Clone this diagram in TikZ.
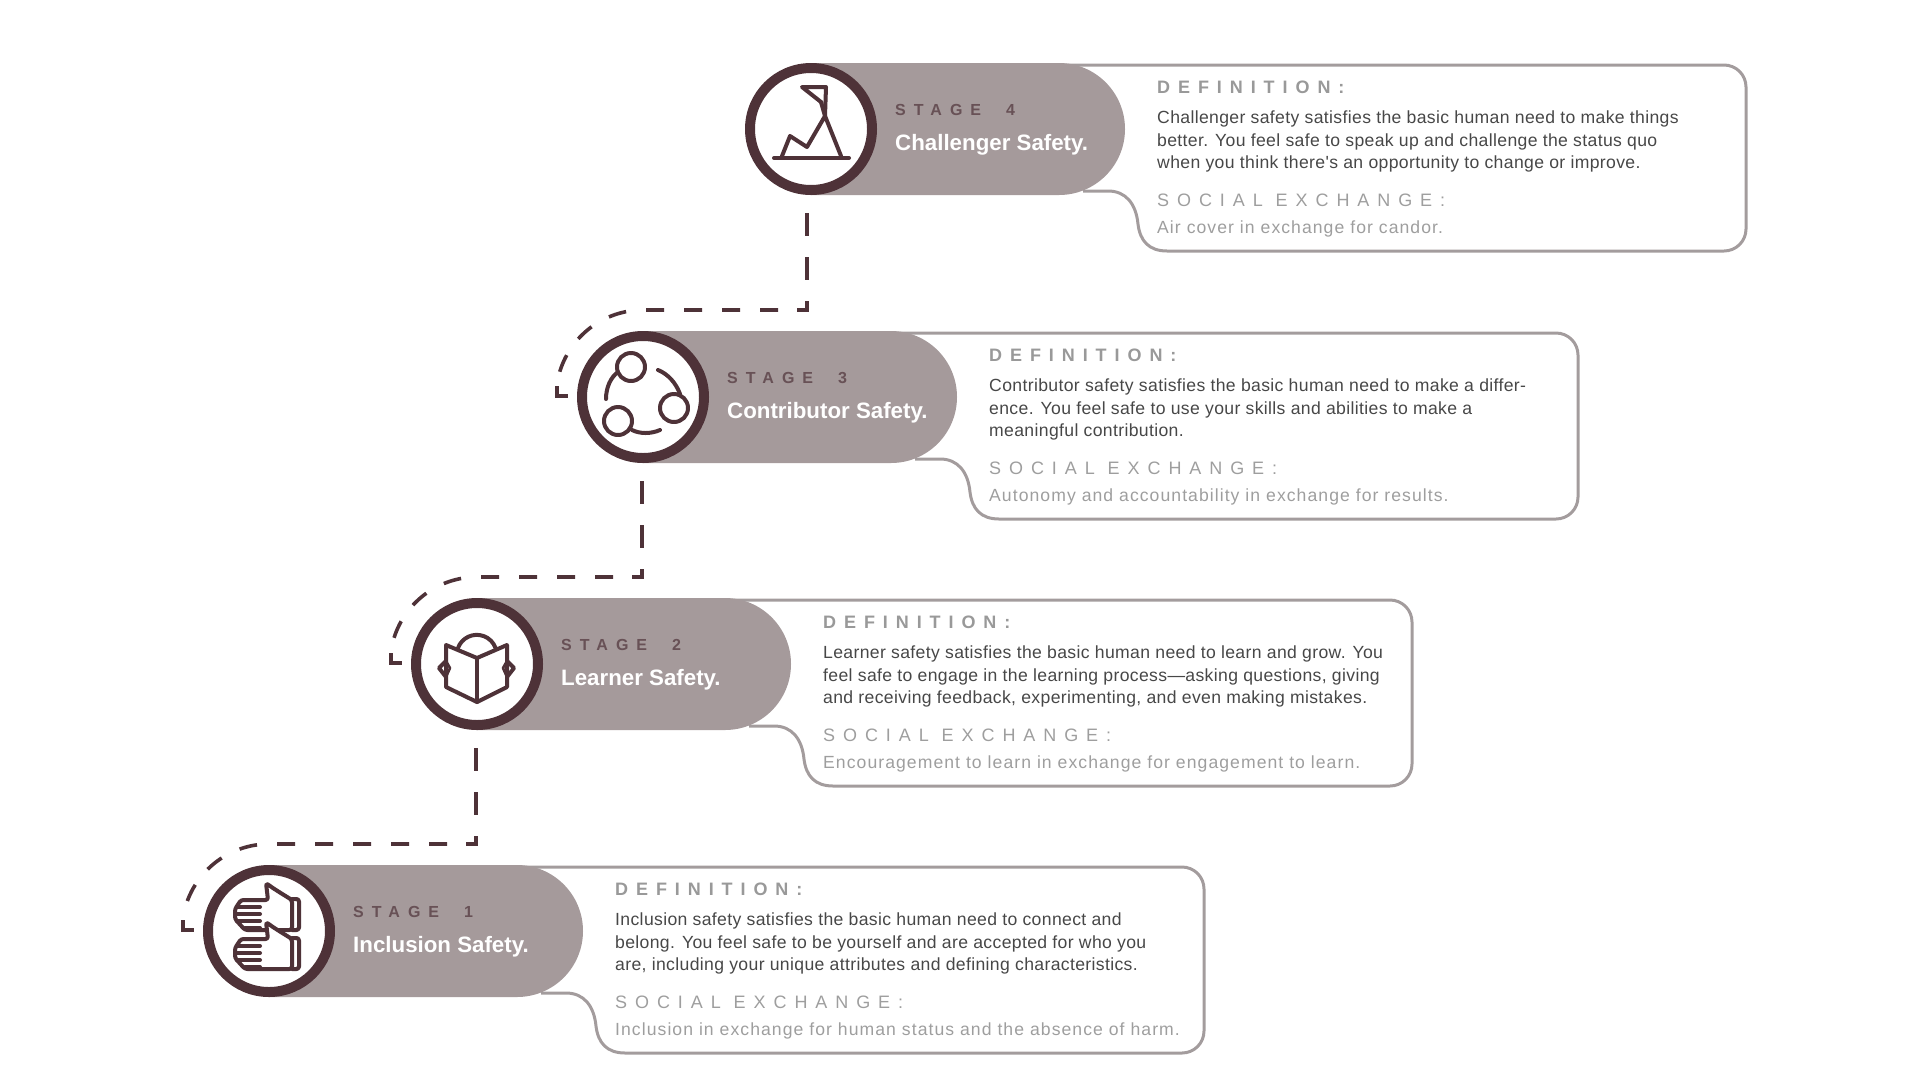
\documentclass[tikz,border=0pt]{standalone}
\usepackage{fontspec}
\setmainfont{Liberation Sans}
\newfontfamily\trackedhead[LetterSpace=44]{Liberation Sans}
\newfontfamily\trackedstage[LetterSpace=50]{Liberation Sans}
\newfontfamily\trackedbody[LetterSpace=2]{Liberation Sans}
\newfontfamily\trackedswap[LetterSpace=6]{Liberation Sans}
\usetikzlibrary{calc}
\definecolor{ringdark}{HTML}{4E3238}
\definecolor{pillgrey}{HTML}{A59A9B}
\definecolor{boxgrey}{HTML}{A39C9D}
\tikzset{
	ringnode/.style={circle,draw=ringdark,fill=white,line width=10pt,minimum size=122pt,inner sep=0pt},
	iconline/.style={draw=ringdark,line width=4pt,line join=round,line cap=round},
	linkline/.style={draw=ringdark,line width=3.6pt},
	downdash/.style={linkline,dash pattern=on 23pt off 21pt},
	acrossdash/.style={linkline,dash pattern=on 18pt off 20pt},
	boxline/.style={draw=boxgrey,line width=3pt},
	stagelabel/.style={anchor=west,inner sep=0pt,text=ringdark!70!pillgrey,font=\trackedstage\fontsize{16}{18}\selectfont\bfseries},
	titlelabel/.style={anchor=west,inner sep=0pt,text=white,font=\fontsize{22.3}{24}\selectfont\bfseries},
	dfnhead/.style={anchor=west,inner sep=0pt,text=black!40,font=\trackedhead\fontsize{18}{20}\selectfont\bfseries},
	swaphead/.style={anchor=west,inner sep=0pt,text=black!38,font=\trackedhead\fontsize{18}{20}\selectfont},
	dfntext/.style={anchor=west,inner sep=0pt,align=left,text=black!72,font=\trackedbody\fontsize{17.6}{22.6}\selectfont},
	swaptext/.style={anchor=west,inner sep=0pt,text=black!38,font=\trackedswap\fontsize{17.6}{22}\selectfont}
}
\begin{document}
\begin{tikzpicture}[x=1pt,y=1pt]
	\useasboundingbox (0,0) rectangle (1920,-1080);

	%Boxes, pills and rings
	\foreach \num/\cx/\cy/\stagename in
		{4/811/-129/Challenger Safety.,3/643/-397/Contributor Safety.,2/477/-664/Learner Safety.,1/269/-931/Inclusion Safety.}
	{
		\begin{scope}[shift={(\cx,\cy)}]
			\draw[boxline] (272,-62) -- (297,-62) .. controls (315,-62) and (325,-75) .. (327,-95)
				.. controls (329,-112) and (338,-122) .. (356,-122) -- (913,-122)
				arc (270:360:22) -- (935,42) arc (0:90:22) -- (200,64);
			\fill[pillgrey] (0,66) -- (248,66) arc (90:-90:66) -- (0,-66) -- cycle;
		\end{scope}
		\node[ringnode] (ring\num) at (\cx,\cy) {};
		\node[stagelabel] (stage\num) at ([xshift=84,yshift=19]ring\num.center) {STAGE\ \ \num};
		\node[titlelabel] (title\num) at ([xshift=84,yshift=-16]ring\num.center) {\stagename};
		\node[dfnhead] (dfnhead\num) at ([xshift=346,yshift=42]ring\num.center) {DEFINITION:};
		\node[swaphead] (swaphead\num) at ([xshift=346,yshift=-71]ring\num.center) {SOCIAL EXCHANGE:};
	}

	%Texts
	\foreach \num/\dfnbody/\swapbody in
		{4/{Challenger safety satisfies the basic human need to make things\\better. You feel safe to speak up and challenge the status quo\\when you think there's an opportunity to change or improve.}/{Air cover in exchange for candor.},
		3/{Contributor safety satisfies the basic human need to make a differ-\\ence. You feel safe to use your skills and abilities to make a\\meaningful contribution.}/{Autonomy and accountability in exchange for results.},
		2/{Learner safety satisfies the basic human need to learn and grow. You\\feel safe to engage in the learning process—asking questions, giving\\and receiving feedback, experimenting, and even making mistakes.}/{Encouragement to learn in exchange for engagement to learn.},
		1/{Inclusion safety satisfies the basic human need to connect and\\belong. You feel safe to be yourself and are accepted for who you\\are, including your unique attributes and defining characteristics.}/{Inclusion in exchange for human status and the absence of harm.}}
	{
		\node[dfntext] (dfntext\num) at ([xshift=346,yshift=-12.5]ring\num.center) {\dfnbody};
		\node[swaptext] (swaptext\num) at ([xshift=346,yshift=-100]ring\num.center) {\swapbody};
	}

	%Dashed links
	\foreach \from/\to/\nudge in {4/3/-4,3/2/-1,2/1/-1}
	{
		\coordinate (top\to) at ([yshift=87]ring\to.center);
		\coordinate (corner\from) at ([xshift=\nudge]ring\from |- top\to);
		\coordinate (foot\to) at ([xshift=-86,yshift=1]ring\to.center);
		\draw[downdash] ([xshift=\nudge,yshift=-18]ring\from.south) -- (corner\from) -- ++(-10,0);
		\draw[acrossdash] ([xshift=-29]corner\from) -- (top\to) arc (90:165:87);
		\draw[linkline] ([yshift=10]foot\to) -- (foot\to) -- ++(11,0);
	}

	%Flag on the mountain
	\begin{scope}[shift={(ring4.center)}]
		\draw[iconline] (-37,-29) -- (38,-29);
		\draw[iconline] (-29,-27) -- (-21,-7) -- (-4,-18) -- (14,13) -- (30,-27);
		\draw[iconline] (14,13) -- (15,42) -- (-9,42) -- (10,27);
		\draw[iconline] (10,27) -- (14,13);
	\end{scope}

	%Three circles
	\begin{scope}[shift={(ring3.center)}]
		\draw[iconline] (-12,30) circle (14);
		\draw[iconline] (31,-11) circle (14);
		\draw[iconline] (-25,-24) circle (14);
		\draw[iconline] (-25,25) .. controls (-32,20) and (-37,10) .. (-37,-2);
		\draw[iconline] (15,27) .. controls (25,23) and (33,14) .. (37,3);
		\draw[iconline] (-11,-33) .. controls (-3,-37) and (8,-37) .. (17,-33);
	\end{scope}

	%Reader with a book
	\begin{scope}[shift={(ring2.center)}]
		\draw[iconline] (-31,19) -- (0,6) -- (30,19) -- (30,-23) -- (0,-38) -- (-31,-23) -- cycle;
		\draw[iconline] (0,6) -- (0,-38);
		\draw[iconline] (-19,16) arc (160:20:20);
		\draw[iconline] (-31,3) -- (-38,-4) -- (-31,-13);
		\draw[iconline] (30,3) -- (37,-4) -- (30,-13);
		\draw[iconline,line width=2.6pt] (-31,3) -- (-27,-4) -- (-31,-13);
		\draw[iconline,line width=2.6pt] (30,3) -- (26,-4) -- (30,-13);
	\end{scope}

	%Two hands
	\begin{scope}[shift={(ring1.center)}]
		\foreach \dy in {0,-39}
		{
			\begin{scope}[yshift=\dy]
				\draw[iconline,fill=white,rounded corners=2.5pt] (-3,48) .. controls (5,42) and (15,36) .. (23,31)
					-- (23,1) -- (-24,1) -- (-34,12) -- (-34,22) -- (-28,31) -- (-1,31) -- cycle;
				\draw[iconline,rounded corners=2.5pt] (23,32) -- (30,32) -- (30,1) -- (23,1);
				\foreach \fy in {24,17,10}
					\draw[iconline] (-32,\fy) -- (-9,\fy);
				\draw[iconline] (-24,3) -- (-9,3);
			\end{scope}
		}
	\end{scope}
\end{tikzpicture}
\end{document}
